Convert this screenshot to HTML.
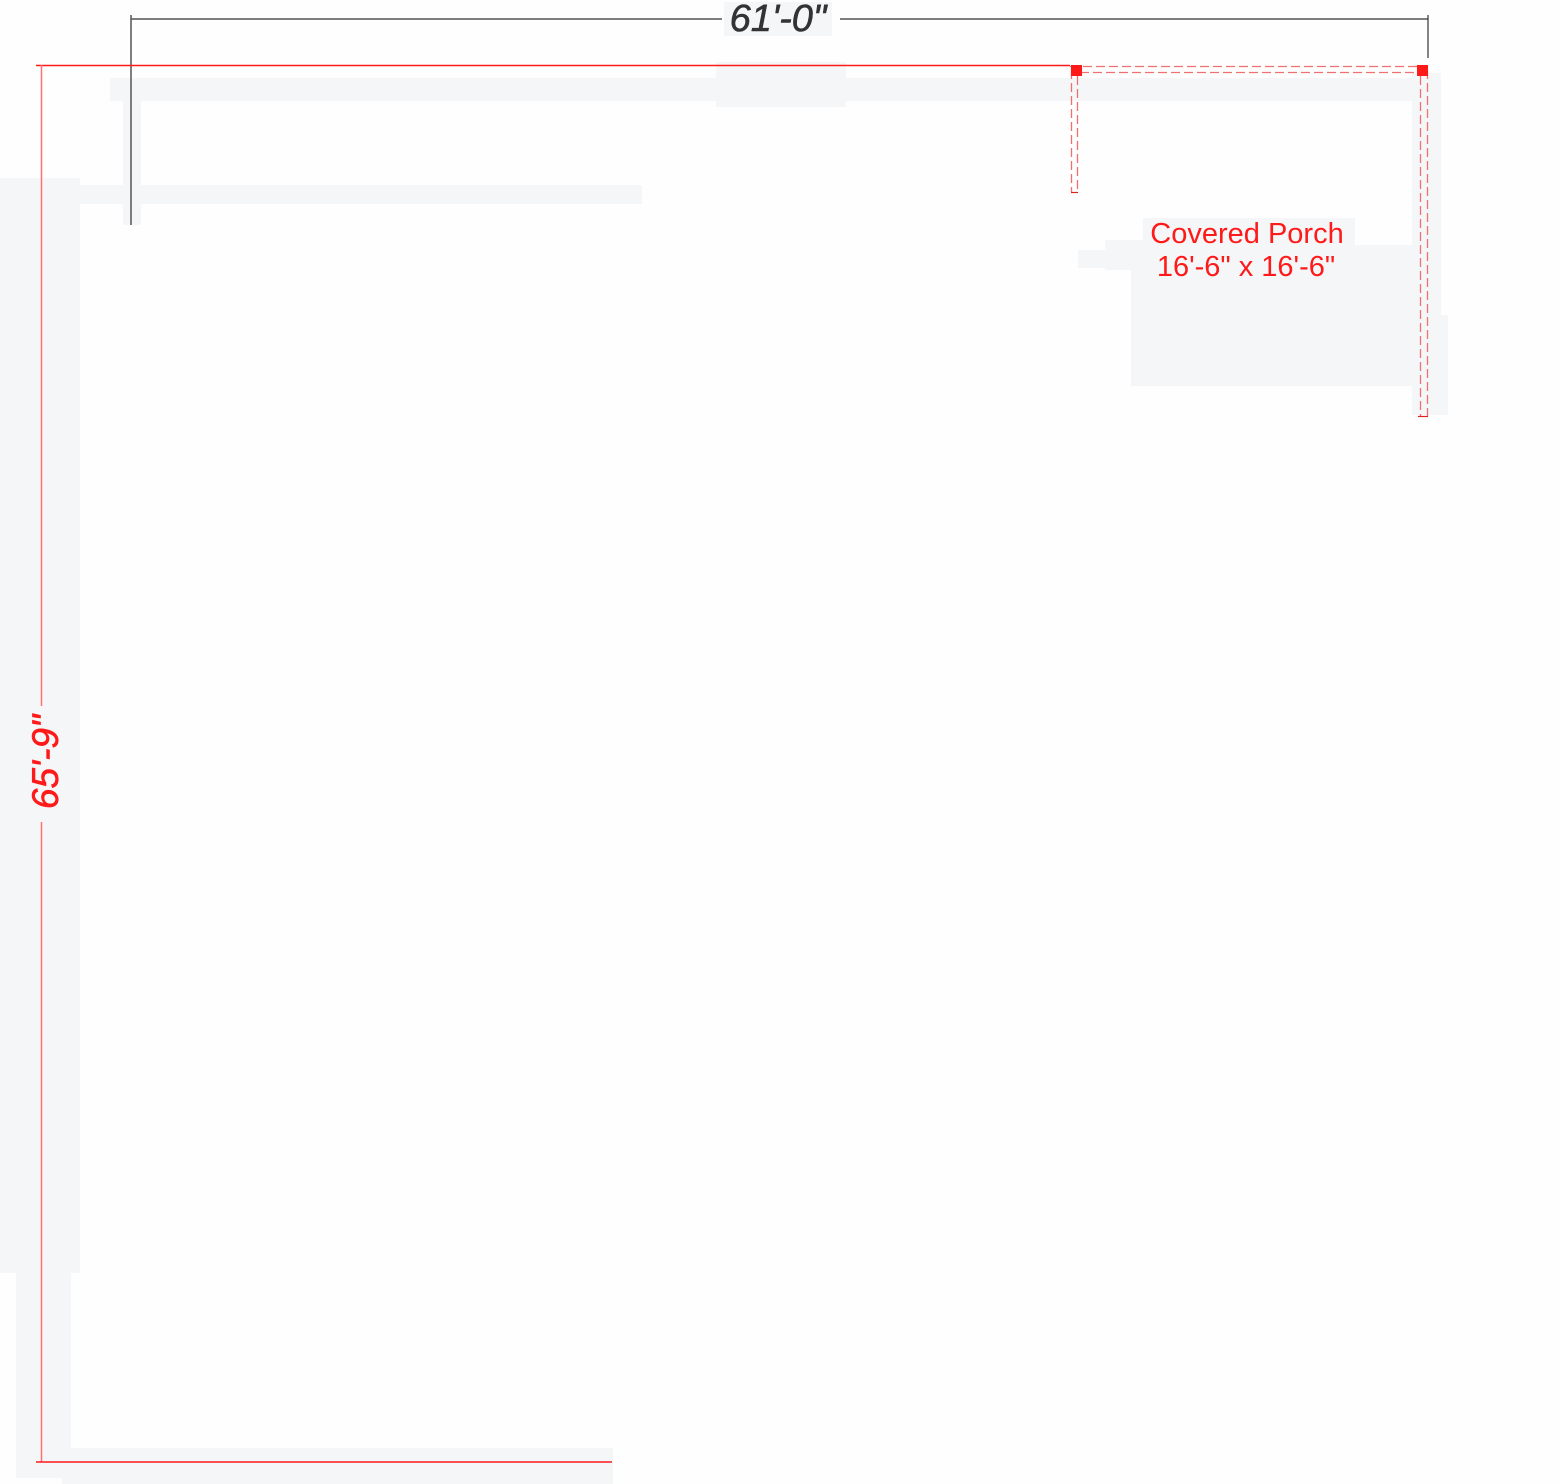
<!DOCTYPE html>
<html><head><meta charset="utf-8"><style>
html,body{margin:0;padding:0;background:#fff;}
svg{display:block;}
</style></head><body>
<svg width="1560" height="1484" viewBox="0 0 1560 1484" xmlns="http://www.w3.org/2000/svg">
<rect width="1560" height="1484" fill="#fefefe"/>
<g fill="#f5f6f8">
<rect x="110" y="78" width="1331" height="23"/>
<rect x="716" y="62" width="130" height="45"/>
<rect x="123" y="100" width="18" height="125"/>
<rect x="80" y="185" width="562" height="19"/>
<rect x="0" y="178" width="80" height="1095"/>
<rect x="16" y="1272" width="55" height="206"/>
<rect x="62" y="1448" width="551" height="36"/>
<rect x="1412" y="73" width="29" height="342"/>
<rect x="1131" y="245" width="310" height="141"/>
<rect x="1105" y="240" width="40" height="30"/>
<rect x="1078" y="250" width="53" height="18"/>
<rect x="1143" y="218" width="212" height="30"/>
<rect x="1420" y="315" width="28" height="100"/>
<rect x="724" y="2" width="108" height="34"/>
</g>
<g stroke="#333" stroke-width="1.2" fill="none">
<line x1="131" y1="19" x2="722" y2="19"/>
<line x1="840" y1="19" x2="1428" y2="19"/>
<line x1="131" y1="15" x2="131" y2="225" stroke="#555" stroke-width="1.5"/>
<line x1="1428" y1="15" x2="1428" y2="58"/>
</g>
<text x="778" y="31" text-anchor="middle" font-family="Liberation Sans, sans-serif" font-style="italic" font-size="38" fill="#333" stroke="#333" stroke-width="0.6">61'-0"</text>
<g stroke="#ff1a1a" stroke-width="1.5">
<line x1="36" y1="65.5" x2="1070" y2="65.5"/>
<line x1="41.5" y1="65" x2="41.5" y2="706" stroke="#ff7070"/>
<line x1="41.5" y1="822" x2="41.5" y2="1462" stroke="#ff7070"/>
<line x1="36" y1="1462" x2="612" y2="1462"/>
</g>
<text transform="translate(58,762) rotate(-90)" text-anchor="middle" font-family="Liberation Sans, sans-serif" font-style="italic" font-size="37" fill="#ff1a1a" stroke="#ff1a1a" stroke-width="0.6">65'-9"</text>
<g stroke="#f07070" stroke-width="1.3" fill="none" stroke-dasharray="9,4">
<line x1="1070" y1="66.5" x2="1423" y2="66.5"/>
<line x1="1080" y1="72.5" x2="1420" y2="72.5"/>
<line x1="1071.5" y1="70" x2="1071.5" y2="192"/>
<line x1="1077.5" y1="76" x2="1077.5" y2="192"/>
<line x1="1420.5" y1="76" x2="1420.5" y2="416"/>
<line x1="1427.5" y1="70" x2="1427.5" y2="416"/>
</g>
<g stroke="#e02020" stroke-width="1.2">
<line x1="1071" y1="192.5" x2="1078" y2="192.5"/>
<line x1="1418" y1="416.5" x2="1428" y2="416.5"/>
</g>
<rect x="1071" y="65" width="11" height="11" fill="#ff1a1a"/>
<rect x="1417" y="65" width="11" height="11" fill="#ff1a1a"/>
<text x="1247" y="243" text-anchor="middle" font-family="Liberation Sans, sans-serif" font-size="29" fill="#ff1a1a">Covered Porch</text>
<text x="1246" y="276" text-anchor="middle" font-family="Liberation Sans, sans-serif" font-size="29" fill="#ff1a1a">16'-6" x 16'-6"</text>
</svg>
</body></html>
